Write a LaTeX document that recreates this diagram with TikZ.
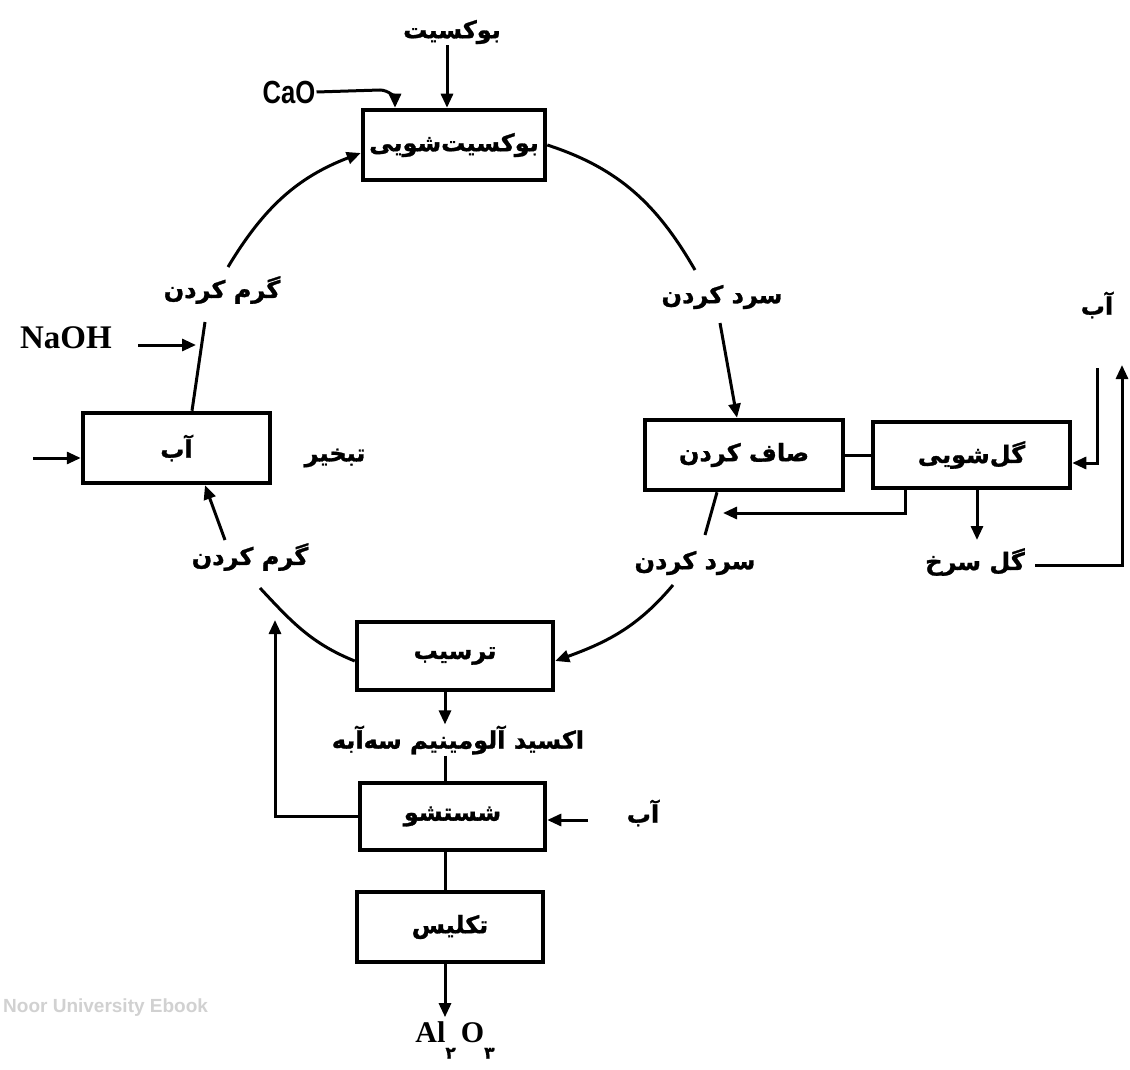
\documentclass[tikz,border=0pt]{standalone}
\usepackage{fontspec}
\setmainfont{Liberation Serif}
\newfontfamily\fa[Script=Arabic, BoldFeatures={FakeBold=1.2}]{DejaVu Sans}
\newfontfamily\lsans{Liberation Sans}
\TeXXeTstate=1
\usetikzlibrary{arrows.meta}
\newcommand\fat[1]{{\fa\bfseries\beginR #1\endR}}
\begin{document}
\begin{tikzpicture}[x=1pt,y=1pt,
  box/.style={draw, line width=4.5pt, inner sep=0pt, font=\fontsize{24}{28}\selectfont},
  con/.style={line width=3pt},
  arr/.style={con, -{Triangle[length=14pt,width=12pt]}},
  lbl/.style={inner sep=1pt, font=\fontsize{24}{28}\selectfont}]
\useasboundingbox (0,-1070) rectangle (1130,0);
\fill[white] (0,-1070) rectangle (1130,0);

% boxes
\node[box, minimum width=182pt, minimum height=70pt] (bw) at (454,-145) {\fat{بوکسیت‌شویی}};
\node[box, minimum width=187pt, minimum height=70pt] (ev) at (176.5,-448) {\fat{آب}};
\node[box, minimum width=198pt, minimum height=70pt] (fl) at (744,-455) {\fat{صاف کردن}};
\node[box, minimum width=197pt, minimum height=66pt] (mw) at (971.5,-455) {\fat{گل‌شویی}};
\node[box, minimum width=196pt, minimum height=68pt] (pr) at (455,-656) {\fat{ترسیب}};
\node[box, minimum width=185pt, minimum height=67pt] (ws) at (452.5,-816.5) {\fat{شستشو}};
\node[box, minimum width=186pt, minimum height=70pt] (cl) at (450,-927) {\fat{تکلیس}};

% labels
\node[lbl] (bx) at (452,-32) {\fat{بوکسیت}};
\node[lbl, font=\lsans\bfseries\fontsize{32}{36}\selectfont] (cao) at (289,-92) {\scalebox{0.8}[1]{CaO}};
\node[lbl] (cd1) at (722,-297) {\fat{سرد کردن}};
\node[lbl] (cd2) at (695,-563) {\fat{سرد کردن}};
\node[lbl] (gk1) at (222,-290) {\fat{گرم کردن}};
\node[lbl] (gk2) at (250,-557) {\fat{گرم کردن}};
\node[lbl, font=\bfseries\fontsize{33}{38}\selectfont] (naoh) at (66,-338) {NaOH};
\node[lbl] (tb) at (335,-458) {\fat{تبخیر}};
\node[lbl] (ar) at (1097,-305) {\fat{آب}};
\node[lbl] (gs) at (975,-562) {\fat{گل سرخ}};
\node[lbl] (ox) at (458,-740) {\fat{اکسید آلومینیم سه‌آبه}};
\node[lbl] (aw) at (643,-813) {\fat{آب}};
\node[lbl, inner sep=4pt, font=\bfseries\fontsize{30}{34}\selectfont] (al) at (455,-1040)
  {Al\raisebox{-0.55em}{\fa\bfseries\fontsize{17}{19}\selectfont ۲}\,O\raisebox{-0.55em}{\fa\bfseries\fontsize{17}{19}\selectfont ۳}};
\node[lbl, text=black!18, font=\lsans\bfseries\fontsize{19}{22}\selectfont, anchor=west] (wm) at (2,-1008) {Noor University Ebook};

% coordinates
\coordinate (c1) at (695,-270);
\coordinate (c2) at (720,-323);
\coordinate (c3) at (737,0);
\coordinate (c4) at (717,0);
\coordinate (c5) at (705,-535);
\coordinate (c6) at (673,-585);
\coordinate (c7) at (260,-588);
\coordinate (c8) at (225,-540);
\coordinate (c9) at (205,0);
\coordinate (c10) at (192,0);
\coordinate (c11) at (205,-322);
\coordinate (c12) at (228,-267);
\coordinate (c13) at (196,-345);
\coordinate (n1) at (138,-345);
\coordinate (k1) at (380,-90);
\coordinate (k2) at (395,0);
\coordinate (k3) at (447,0);
\coordinate (e1) at (33,-458);
\coordinate (m1) at (905,-513);
\coordinate (m2) at (723,-513);
\coordinate (g1) at (977,-540);
\coordinate (r1) at (1097,-368);
\coordinate (r2) at (1097,-463);
\coordinate (r3) at (1035,-565);
\coordinate (r4) at (1122,-565);
\coordinate (r5) at (1122,-365);
\coordinate (ax) at (445,0);
\coordinate (w1) at (588,-820);
\coordinate (fb) at (275,-620);

% main loop
\draw[con] (bw.east) to[out=-18,in=120] (c1);
\draw[arr] (c2) -- (c3 |- fl.north);
\draw[con] (c4 |- fl.south) -- (c5);
\draw[arr] (c6) to[out=-130,in=20] ([yshift=-5pt]pr.east);
\draw[con] ([yshift=-5pt]pr.west) to[out=158,in=-47] (c7);
\draw[arr] (c8) -- (c9 |- ev.south);
\draw[con] (c10 |- ev.north) -- (c11);
\draw[arr] (c12) to[out=59,in=201] ([yshift=-8pt]bw.west);

% inputs
\draw[arr] (cao.east) -- (k1) to[out=0,in=90] (k2 |- bw.north);
\draw[arr] (bx.south -| k3) -- (k3 |- bw.north);
\draw[arr] (n1) -- (c13);
\draw[arr] (e1) -- (e1 -| ev.west);

% right side
\draw[con] (fl.east) -- (mw.west);
\draw[arr] (m1 |- mw.south) -- (m1) -- (m2);
\draw[arr] (g1 |- mw.south) -- (g1);
\draw[arr] (r1) -- (r2) -- (r2 -| mw.east);
\draw[arr] (r3) -- (r4) -- (r5);

% lower chain
\draw[arr] (ax |- pr.south) -- (ax |- ox.north);
\draw[con] (ax |- ox.south) -- (ax |- ws.north);
\draw[arr] (w1) -- (w1 -| ws.east);
\draw[arr] (ws.west) -- (ws.west -| fb) -- (fb);
\draw[con] (ax |- ws.south) -- (ax |- cl.north);
\draw[arr] (ax |- cl.south) -- (ax |- al.north);
\end{tikzpicture}
\end{document}
